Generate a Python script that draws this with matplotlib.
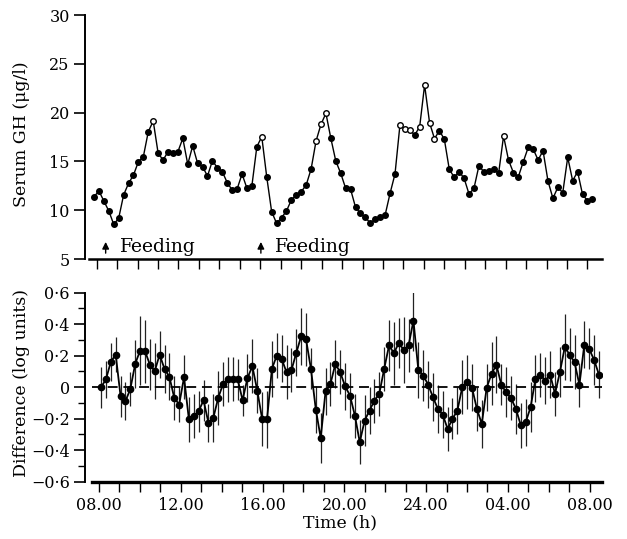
import numpy as np
import matplotlib
matplotlib.use("Agg")
import matplotlib.pyplot as plt
from matplotlib.ticker import FixedLocator, MultipleLocator

plt.rcParams['font.family'] = ['DejaVu Serif']

# ---------------- data ----------------
gh_values = [11.38, 11.97, 10.94, 9.92, 8.55, 9.17, 11.56, 12.75, 13.6, 14.97, 15.48, 18.04,
             19.14, 15.83, 15.14, 15.99, 15.89, 15.99, 17.36, 14.7, 16.6, 14.8, 14.46, 13.5,
             15.07, 14.35, 13.95, 12.82, 12.07, 12.17, 13.71, 12.24, 12.51, 16.5, 17.53, 13.43,
             9.85, 8.66, 9.23, 9.92, 11.05, 11.56, 11.9, 12.58, 14.22, 17.09, 18.8, 19.93,
             17.36, 15.04, 13.78, 12.24,
             12.14, 10.3, 9.68, 9.27, 8.66, 9.07, 9.27, 9.51, 11.73, 13.71, 18.73, 18.29,
             18.22, 17.7, 18.56, 22.83, 18.97, 17.33, 18.15, 17.26, 14.19, 13.37, 13.95, 13.27,
             11.66, 12.24, 14.53, 13.95, 14.05, 14.22, 13.78, 17.6, 15.14, 13.84, 13.43, 14.97,
             16.44, 16.27, 15.14, 16.1, 12.99, 11.22, 12.34, 11.8, 15.42, 13.02, 13.95, 11.63,
             10.97, 11.11]
gh_open_idx = [12, 34, 45, 46, 47, 62, 63, 64, 66, 67, 68, 69, 83]
gh_time_span = (-0.13, 24.24)   # hours after 08.00

diff_values = [0.000, 0.049, 0.161, 0.207, -0.057, -0.089, -0.011, 0.148, 0.233, 0.229, 0.144,
               0.102, 0.207, 0.116, 0.066, -0.068, -0.110, 0.063, -0.205, -0.184, -0.152,
               -0.083, -0.226, -0.195, -0.068, 0.021, 0.049, 0.053, 0.049, -0.083, 0.059,
               0.133, -0.021, -0.201, -0.205, 0.116, 0.201, 0.180, 0.095, 0.108, 0.218, 0.324,
               0.303, 0.116, -0.142, -0.322, -0.025, 0.021, 0.148, 0.095, 0.006, -0.053,
               -0.180, -0.349, -0.212, -0.148, -0.085, -0.042, 0.116, 0.265, 0.216, 0.281,
               0.237, 0.265, 0.423, 0.110, 0.074, 0.017, -0.063, -0.138, -0.174, -0.265,
               -0.201, -0.148, 0.000, 0.032, -0.004, -0.138, -0.233, -0.004, 0.085, 0.142,
               0.015, -0.032, -0.070, -0.138, -0.243, -0.222, -0.127, 0.053, 0.080, 0.042,
               0.080, -0.042, 0.095, 0.254, 0.207, 0.159, 0.015, 0.269, 0.243, 0.174, 0.080]
diff_err = [0.13, 0.12, 0.12, 0.11, 0.13, 0.12, 0.11, 0.15, 0.22, 0.20, 0.16, 0.18, 0.15, 0.15,
            0.15, 0.14, 0.11, 0.14, 0.14, 0.14, 0.13, 0.13, 0.12, 0.15, 0.17, 0.14, 0.14, 0.14,
            0.13, 0.10, 0.15, 0.17, 0.14, 0.17, 0.18, 0.18, 0.14, 0.15, 0.17, 0.14, 0.15, 0.18,
            0.17, 0.13, 0.15, 0.16, 0.15, 0.14, 0.15, 0.14, 0.15, 0.14,
            0.14, 0.14, 0.16, 0.15, 0.14, 0.14, 0.14, 0.16, 0.20, 0.16, 0.21, 0.17, 0.19, 0.18,
            0.16, 0.15, 0.15, 0.15, 0.15, 0.14, 0.13, 0.15, 0.17, 0.17, 0.15, 0.14, 0.15, 0.15,
            0.20, 0.18, 0.13, 0.16, 0.14, 0.16, 0.14, 0.15, 0.16, 0.15, 0.14, 0.15, 0.15, 0.14,
            0.16, 0.21, 0.17, 0.17, 0.14, 0.15, 0.13, 0.16, 0.15]
diff_time_span = (0.10, 24.45)

x_tick_hours = list(range(0, 25))
x_label_hours = [0, 4, 8, 12, 16, 20, 24]
x_labels = ['08.00', '12.00', '16.00', '20.00', '24.00', '04.00', '08.00']
gh_ticks = [5, 10, 15, 20, 25, 30]
diff_ticks = [-0.6, -0.4, -0.2, 0, 0.2, 0.4, 0.6]
diff_tick_labels = ['\u22120\u00b76', '\u22120\u00b74', '\u22120\u00b72', '0', '0\u00b72', '0\u00b74', '0\u00b76']
feeding_hours = [0.44, 8.03]

# ---------------- figure ----------------
W, H = 627, 539
fig = plt.figure(figsize=(W / 100, H / 100), dpi=100)
ax1 = fig.add_axes([85 / W, 1 - 259 / H, 517 / W, 244 / H])
ax2 = fig.add_axes([85 / W, 1 - 481.7 / H, 517 / W, 189 / H])

t_gh = np.linspace(gh_time_span[0], gh_time_span[1], len(gh_values))
t_diff = np.linspace(diff_time_span[0], diff_time_span[1], len(diff_values))
gh = np.array(gh_values)

# top panel
ax1.plot(t_gh, gh, color='black', lw=1.0, zorder=2)
filled = np.array([i not in gh_open_idx for i in range(len(gh))])
ax1.plot(t_gh[filled], gh[filled], 'o', color='black', ms=4.0, zorder=3)
ax1.plot(t_gh[~filled], gh[~filled], 'o', mfc='white', mec='black', mew=1.0, ms=4.0, zorder=3)
ax1.set_xlim(-0.57, 24.71)
ax1.set_ylim(5, 30)
ax1.set_yticks(gh_ticks)
ax1.set_yticklabels([str(v) for v in gh_ticks])
ax1.xaxis.set_major_locator(FixedLocator(x_tick_hours))
ax1.set_xticklabels([])
for fh in feeding_hours:
    ax1.annotate('', xy=(fh, 6.75), xytext=(fh, 5.6),
                 arrowprops=dict(arrowstyle='-|>', color='black', lw=1.0, mutation_scale=10,
                                 shrinkA=0, shrinkB=0))
    ax1.text(fh + 0.7, 5.75, 'Feeding', fontsize=13.5, ha='left', va='baseline')

# bottom panel
ax2.errorbar(t_diff, diff_values, yerr=diff_err, fmt='none', ecolor='#222222',
             elinewidth=0.9, capsize=0, zorder=1)
ax2.plot(t_diff, diff_values, '-o', color='black', lw=1.3, ms=4.5, zorder=3)
ax2.plot([-0.34, 24.6], [0, 0], color='black', lw=1.3, ls=(0, (5.5, 3.2)), zorder=2)
ax2.set_xlim(-0.685, 24.6)
ax2.set_ylim(-0.6, 0.6)
ax2.set_yticks(diff_ticks)
ax2.set_yticklabels(diff_tick_labels)
ax2.yaxis.set_minor_locator(MultipleLocator(0.1))
ax2.xaxis.set_major_locator(FixedLocator(x_tick_hours))
ax2.set_xticklabels([x_labels[x_label_hours.index(h)] if h in x_label_hours else ''
                     for h in x_tick_hours])

for ax in (ax1, ax2):
    ax.spines['top'].set_visible(False)
    ax.spines['right'].set_visible(False)
    ax.spines['left'].set_linewidth(1.4)
    ax.spines['bottom'].set_linewidth(1.8)
    ax.tick_params(axis='y', which='major', direction='out', length=8, width=1.2,
                   labelsize=11.5, pad=3)
    ax.tick_params(axis='y', which='minor', direction='out', length=5, width=1.0)
    ax.tick_params(axis='x', which='major', direction='out', length=7, width=1.0,
                   labelsize=11.5, pad=4)
ax1.spines['bottom'].set_bounds(-0.38, 24.71)
ax2.spines['bottom'].set_bounds(-0.34, 24.6)
ax2.spines['bottom'].set_linewidth(2.4)

fig.text(22 / W, 1 - 134 / H, 'Serum GH (\u03bcg/l)', rotation=90, ha='center', va='center',
         fontsize=12.5)
fig.text(22 / W, 1 - 383 / H, 'Difference (log units)', rotation=90, ha='center', va='center',
         fontsize=12.5)
fig.text(340 / W, 1 - 523 / H, 'Time (h)', ha='center', va='center', fontsize=12.5)

fig.savefig('out.png', dpi=100)
